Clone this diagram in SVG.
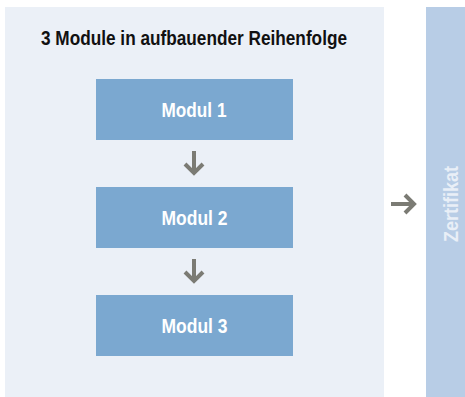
<svg xmlns="http://www.w3.org/2000/svg" width="465" height="397" viewBox="0 0 465 397">
<style>
.lbl{font-family:"Liberation Sans Narrow","Liberation Sans",Arial,sans-serif;font-weight:bold;}
.box{fill:#7ba8d0;}
.mt{fill:#ffffff;font-size:21px;text-anchor:middle;}
.arr{fill:none;stroke:#7b7b74;stroke-width:4;}
</style>
<rect x="0" y="0" width="465" height="397" fill="#ffffff"/>
<g id="panel">
<rect x="5" y="7" width="379" height="390" fill="#ebf0f7"/>
<text class="lbl" x="41" y="45" font-size="19.5" fill="#111111" textLength="306" lengthAdjust="spacingAndGlyphs">3 Module in aufbauender Reihenfolge</text>
</g>
<g id="modul1">
<rect class="box" x="96" y="79" width="197" height="61"/>
<text class="lbl mt" x="194" y="117" textLength="65" lengthAdjust="spacingAndGlyphs">Modul 1</text>
</g>
<g id="modul2">
<rect class="box" x="96" y="187" width="197" height="61"/>
<text class="lbl mt" x="194.5" y="225" textLength="66" lengthAdjust="spacingAndGlyphs">Modul 2</text>
</g>
<g id="modul3">
<rect class="box" x="96" y="295" width="197" height="61"/>
<text class="lbl mt" x="194.5" y="333" textLength="66" lengthAdjust="spacingAndGlyphs">Modul 3</text>
</g>
<g id="zertifikat">
<rect x="426" y="7" width="39" height="390" fill="#b8cde6"/>
<text class="lbl" transform="translate(457.5,204) rotate(-90)" x="0" y="0" font-size="21" fill="#e9eff7" text-anchor="middle" textLength="76" lengthAdjust="spacingAndGlyphs">Zertifikat</text>
</g>
<g id="connectors">
<path class="arr" d="M194 151 V173 M185 164 L194 173 L203 164"/>
<path class="arr" d="M194 259 V281 M185 272 L194 281 L203 272"/>
<path class="arr" d="M391 204 H414 M405 195 L414 204 L405 213"/>
</g>
</svg>
